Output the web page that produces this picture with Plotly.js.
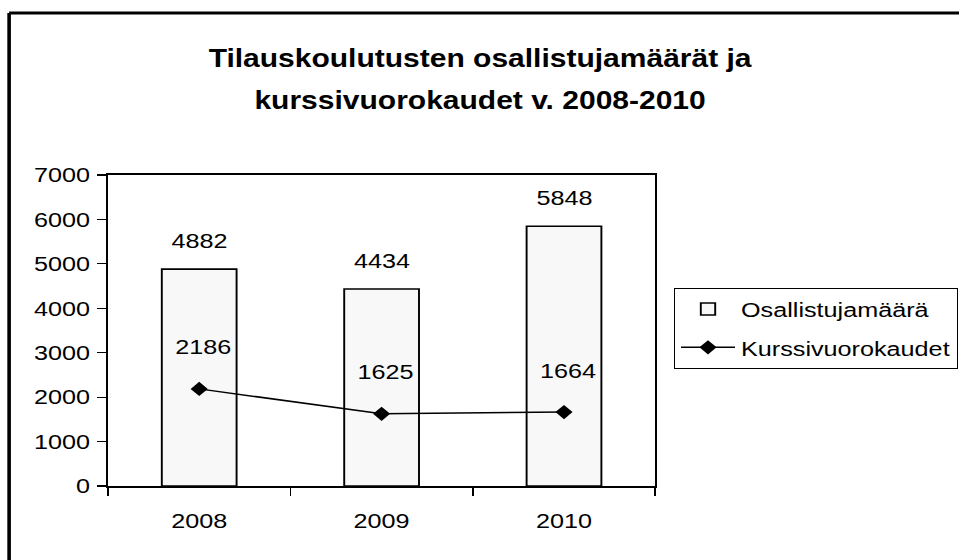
<!DOCTYPE html>
<html>
<head>
<meta charset="utf-8">
<script src="https://cdn.plot.ly/plotly-3.0.1.min.js"></script>
<style>
  html, body { margin: 0; padding: 0; background: #fff; overflow: hidden; }
  #wrap { width: 959px; height: 560px; overflow: hidden; position: relative; }
  #chart { width: 820px; height: 560px; transform: scaleX(1.2); transform-origin: 0 0; }
</style>
</head>
<body>
<div id="wrap"><div id="chart"></div></div>
<script>
const years = ['2008', '2009', '2010'];
const osallistujamaara = [4882, 4434, 5848];
const kurssivuorokaudet = [2186, 1625, 1664];
const titleLine1 = 'Tilauskoulutusten osallistujamäärät ja';
const titleLine2 = 'kurssivuorokaudet v. 2008-2010';
const yTicks = [0, 1000, 2000, 3000, 4000, 5000, 6000, 7000];

const FONT = 'Liberation Sans, Arial, sans-serif';

const traces = [
  {
    type: 'bar',
    name: 'Osallistujamäärä',
    x: years,
    y: osallistujamaara,
    legendgroup: 'a',
    marker: { color: '#f8f8f8', line: { color: '#000', width: 1.6 } },
    hoverinfo: 'skip'
  },
  {
    type: 'scatter',
    mode: 'lines+markers',
    name: 'Kurssivuorokaudet',
    x: years,
    y: kurssivuorokaudet,
    legendgroup: 'b',
    line: { color: '#000', width: 1.5 },
    marker: { symbol: 'diamond', size: 11, color: '#000' },
    hoverinfo: 'skip'
  }
];

const annotations = [];
years.forEach((yr, i) => {
  annotations.push({
    x: i, y: osallistujamaara[i], xref: 'x', yref: 'y',
    text: String(osallistujamaara[i]), showarrow: false,
    yanchor: 'middle', yshift: 29,
    font: { family: FONT, size: 21, color: '#000' }
  });
  annotations.push({
    x: i, y: kurssivuorokaudet[i], xref: 'x', yref: 'y',
    text: String(kurssivuorokaudet[i]), showarrow: false,
    yanchor: 'middle', yshift: 42, xshift: 3,
    font: { family: FONT, size: 21, color: '#000' }
  });
});
annotations.push({
  xref: 'paper', yref: 'paper', x: 0.68, y: (486 - 100) / 311,
  text: '<b>' + titleLine2 + '</b>', showarrow: false,
  xanchor: 'center', yanchor: 'middle',
  font: { family: FONT, size: 25, color: '#000' }
});

const layout = {
  width: 820, height: 560,
  paper_bgcolor: '#fff', plot_bgcolor: '#fff',
  margin: { l: 90, r: 274, t: 175, b: 74, pad: 0 },
  font: { family: FONT, size: 21, color: '#000' },
  title: {
    text: '<b>' + titleLine1 + '</b>',
    xref: 'paper', x: 0.68, xanchor: 'center',
    yref: 'container', y: 1 - 58 / 560, yanchor: 'middle',
    font: { family: FONT, size: 25, color: '#000' }
  },
  bargap: 0.59,
  showlegend: true,
  legend: {
    x: 1.034, y: 0.637, xanchor: 'left', yanchor: 'top',
    bgcolor: '#fff', bordercolor: '#000', borderwidth: 1,
    font: { family: FONT, size: 21, color: '#000' },
    itemwidth: 45, traceorder: 'grouped', tracegroupgap: 8
  },
  xaxis: {
    type: 'category',
    range: [-0.5, 2.5],
    showline: true, linecolor: '#000', linewidth: 1.8, mirror: true,
    ticks: 'outside', tickson: 'boundaries', ticklen: 8, tickwidth: 1.2, tickcolor: '#000',
    showgrid: false, zeroline: false,
    tickangle: 0,
    tickfont: { family: FONT, size: 21, color: '#000' },
    ticklabelstandoff: 15,
    fixedrange: true
  },
  yaxis: {
    range: [0, 7000],
    tickvals: yTicks,
    ticktext: yTicks.map(String),
    showline: true, linecolor: '#000', linewidth: 1.8, mirror: true,
    ticks: 'outside', ticklen: 7, tickwidth: 1.2, tickcolor: '#000',
    showgrid: false, zeroline: false,
    tickfont: { family: FONT, size: 21, color: '#000' },
    ticklabelstandoff: 2,
    fixedrange: true
  },
  shapes: [
    {
      type: 'line', xref: 'paper', yref: 'paper',
      x0: (7.6 - 90) / 456, x1: (7.6 - 90) / 456, y0: -0.5, y1: (486 - 13) / 311,
      line: { color: '#000', width: 3 }, layer: 'below'
    },
    {
      type: 'line', xref: 'paper', yref: 'paper',
      x0: (7.6 - 90) / 456, x1: 2, y0: (486 - 13) / 311, y1: (486 - 13) / 311,
      line: { color: '#000', width: 3 }, layer: 'below'
    }
  ],
  annotations: annotations
};

Plotly.newPlot('chart', traces, layout, { displayModeBar: false, staticPlot: true });
</script>
</body>
</html>
